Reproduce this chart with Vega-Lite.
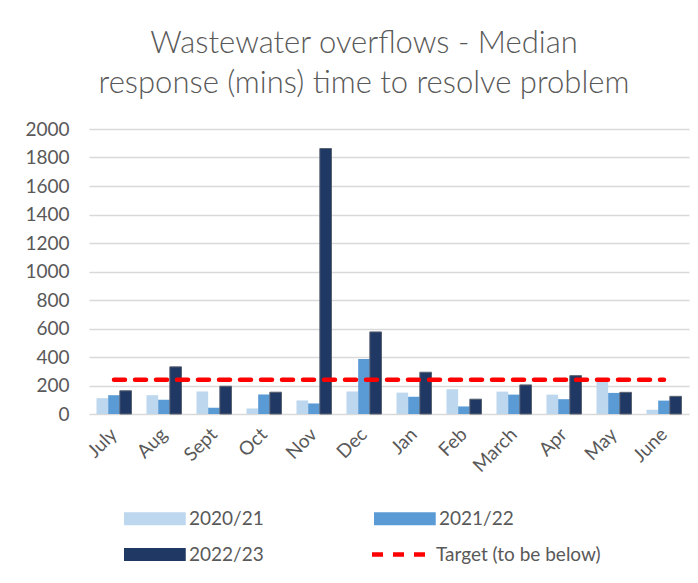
{
  "$schema": "https://vega.github.io/schema/vega-lite/v6.json",
  "width": 600,
  "height": 285,
  "autosize": {"type": "none"},
  "padding": {"left": 89, "top": 129, "right": 9, "bottom": 169},
  "background": "white",
  "title": {
    "text": ["Wastewater overflows - Median", "response (mins) time to resolve problem"],
    "font": "Lato",
    "fontSize": 31,
    "fontWeight": 300,
    "color": "#595959",
    "lineHeight": 40,
    "anchor": "middle",
    "dx": -25,
    "offset": 20
  },
  "config": {
    "view": {"stroke": null},
    "font": "Lato",
    "axis": {"labelFont": "Lato", "labelColor": "#595959", "labelFontSize": 19, "titleFont": "Lato"},
    "legend": {"labelFont": "Lato", "labelColor": "#595959", "labelFontSize": 19, "labelLimit": 400}
  },
  "datasets": {
    "bars": [
      {"month": "July", "series": "2020/21", "value": 111},
      {"month": "July", "series": "2021/22", "value": 132},
      {"month": "July", "series": "2022/23", "value": 163},
      {"month": "Aug", "series": "2020/21", "value": 132},
      {"month": "Aug", "series": "2021/22", "value": 100},
      {"month": "Aug", "series": "2022/23", "value": 331},
      {"month": "Sept", "series": "2020/21", "value": 158},
      {"month": "Sept", "series": "2021/22", "value": 44},
      {"month": "Sept", "series": "2022/23", "value": 195},
      {"month": "Oct", "series": "2020/21", "value": 39},
      {"month": "Oct", "series": "2021/22", "value": 137},
      {"month": "Oct", "series": "2022/23", "value": 153},
      {"month": "Nov", "series": "2020/21", "value": 95},
      {"month": "Nov", "series": "2021/22", "value": 74},
      {"month": "Nov", "series": "2022/23", "value": 1863},
      {"month": "Dec", "series": "2020/21", "value": 158},
      {"month": "Dec", "series": "2021/22", "value": 386},
      {"month": "Dec", "series": "2022/23", "value": 576},
      {"month": "Jan", "series": "2020/21", "value": 150},
      {"month": "Jan", "series": "2021/22", "value": 121},
      {"month": "Jan", "series": "2022/23", "value": 293},
      {"month": "Feb", "series": "2020/21", "value": 174},
      {"month": "Feb", "series": "2021/22", "value": 53},
      {"month": "Feb", "series": "2022/23", "value": 104},
      {"month": "March", "series": "2020/21", "value": 157},
      {"month": "March", "series": "2021/22", "value": 136},
      {"month": "March", "series": "2022/23", "value": 204},
      {"month": "Apr", "series": "2020/21", "value": 136},
      {"month": "Apr", "series": "2021/22", "value": 104},
      {"month": "Apr", "series": "2022/23", "value": 269},
      {"month": "May", "series": "2020/21", "value": 236},
      {"month": "May", "series": "2021/22", "value": 148},
      {"month": "May", "series": "2022/23", "value": 152},
      {"month": "June", "series": "2020/21", "value": 30},
      {"month": "June", "series": "2021/22", "value": 94},
      {"month": "June", "series": "2022/23", "value": 124}
    ],
    "target": [
      {"month": "July", "target": 240},
      {"month": "Aug", "target": 240},
      {"month": "Sept", "target": 240},
      {"month": "Oct", "target": 240},
      {"month": "Nov", "target": 240},
      {"month": "Dec", "target": 240},
      {"month": "Jan", "target": 240},
      {"month": "Feb", "target": 240},
      {"month": "March", "target": 240},
      {"month": "Apr", "target": 240},
      {"month": "May", "target": 240},
      {"month": "June", "target": 240}
    ]
  },
  "encoding": {
    "x": {
      "field": "month",
      "type": "nominal",
      "sort": ["July", "Aug", "Sept", "Oct", "Nov", "Dec", "Jan", "Feb", "March", "Apr", "May", "June"],
      "scale": {"paddingInner": 0.3, "paddingOuter": 0.15},
      "axis": {
        "title": null,
        "domain": false,
        "ticks": false,
        "labelAngle": -45,
        "labelAlign": "right",
        "labelBaseline": "middle",
        "labelPadding": 17
      }
    }
  },
  "layer": [
    {
      "data": {"name": "bars"},
      "mark": {"type": "bar", "strokeWidth": 1},
      "encoding": {
        "xOffset": {
          "field": "series",
          "type": "nominal",
          "sort": ["2020/21", "2021/22", "2022/23"],
          "scale": {"paddingInner": 0, "paddingOuter": 0}
        },
        "y": {
          "field": "value",
          "type": "quantitative",
          "scale": {"domain": [0, 2000], "nice": false},
          "axis": {
            "title": null,
            "values": [0, 200, 400, 600, 800, 1000, 1200, 1400, 1600, 1800, 2000],
            "format": "d",
            "labelOverlap": false,
            "domain": false,
            "ticks": false,
            "labelPadding": 20,
            "gridColor": "#D9D9D9",
            "gridWidth": 1.3
          }
        },
        "color": {
          "field": "series",
          "type": "nominal",
          "scale": {
            "domain": ["2020/21", "2021/22", "2022/23"],
            "range": ["#BDD7EE", "#5B9BD5", "#203864"]
          },
          "legend": {
            "title": null,
            "orient": "none",
            "legendX": 32,
            "legendY": 380,
            "direction": "horizontal",
            "columns": 2,
            "columnPadding": 107,
            "rowPadding": 16,
            "symbolSize": 169,
            "symbolStrokeWidth": 0,
            "symbolType": "M-1,-1H8.5V1H-1Z",
            "labelOffset": 49
          }
        },
        "stroke": {
          "condition": {"test": "datum.series == '2022/23'", "value": "#5a6270"},
          "value": null
        }
      }
    },
    {
      "data": {"name": "target"},
      "mark": {"type": "line", "strokeWidth": 4.5, "strokeDash": [11, 10], "strokeCap": "round"},
      "encoding": {
        "y": {
          "field": "target",
          "type": "quantitative",
          "axis": {
            "title": null,
            "values": [0, 200, 400, 600, 800, 1000, 1200, 1400, 1600, 1800, 2000],
            "format": "d",
            "labelOverlap": false,
            "domain": false,
            "ticks": false,
            "labelPadding": 20,
            "gridColor": "#D9D9D9",
            "gridWidth": 1.3
          }
        },
        "stroke": {
          "datum": "Target (to be below)",
          "type": "nominal",
          "scale": {"domain": ["Target (to be below)"], "range": ["#FF0000"]},
          "legend": {
            "title": null,
            "orient": "none",
            "legendX": 280,
            "legendY": 416,
            "symbolSize": 169,
            "symbolType": "M-1,0H8.5",
            "symbolStrokeWidth": 4.5,
            "symbolDash": [11, 10],
            "symbolFillColor": "transparent",
            "labelOffset": 48
          }
        }
      }
    }
  ]
}
